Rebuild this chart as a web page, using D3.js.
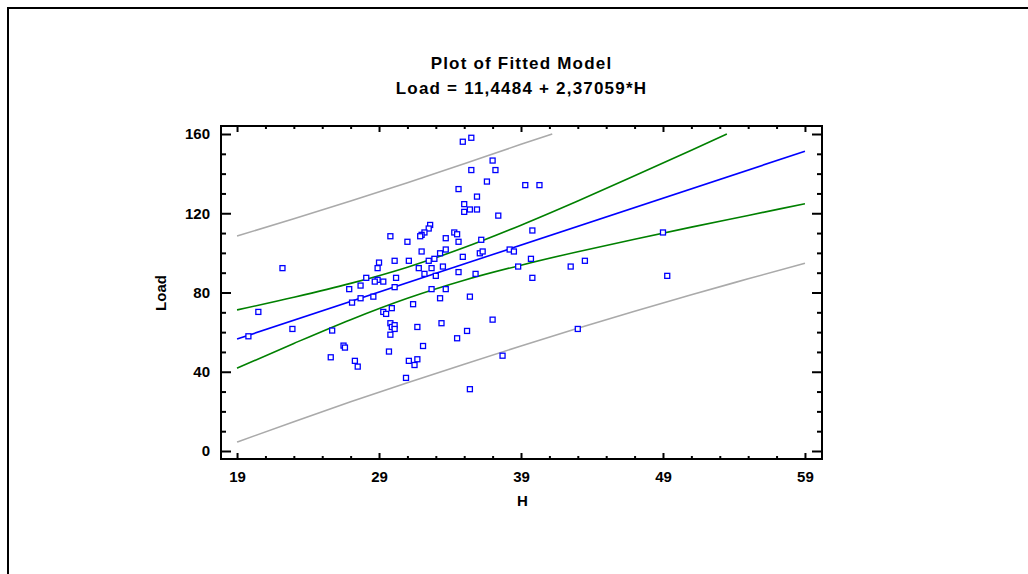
<!DOCTYPE html>
<html>
<head>
<meta charset="utf-8">
<script src="https://cdn.jsdelivr.net/npm/d3@7"></script>
<style>
  body { margin: 0; background: #fff; }
  text { font-family: "Liberation Sans", Arial, sans-serif; font-weight: bold; }
</style>
</head>
<body>
<svg width="1028" height="574"></svg>
<script>
// observed points (H, Load)
var H = [22.2, 34.9, 35.5, 35.5, 37.0, 37.2, 36.6, 34.6, 35.9, 35.0, 35.0, 35.4, 35.9, 37.4, 32.6, 32.5,
  32.2, 32.0, 31.9, 29.8, 31.0, 34.3, 34.5, 33.7, 34.6, 36.2, 32.0, 33.7, 33.3, 32.9, 32.5, 30.1,
  31.1, 29.0, 28.9, 31.8, 32.7, 33.5, 32.2, 33.0, 34.6, 35.8, 34.9, 36.1, 36.3, 38.2, 38.5, 38.8,
  28.1, 30.2, 28.9, 28.7, 29.3, 27.7, 26.9, 30.1, 32.7, 33.7, 27.7, 28.6, 33.3, 35.4,
  27.1, 20.5, 19.8, 22.9, 25.7, 26.5, 26.6, 25.6, 27.3, 27.5, 29.3, 29.5, 29.9, 29.8, 29.9, 30.1,
  30.1, 29.8, 29.7, 31.4, 31.7, 32.1, 31.1, 31.7, 31.5, 30.9, 33.4, 34.5, 35.2, 37.0, 37.7, 35.4,
  39.3, 40.3, 39.8, 39.7, 39.8, 42.5, 43.5, 49.0, 49.3, 43.0];
var load = [92.3, 156.1, 158.1, 141.8, 146.6, 141.8, 136.0, 132.2, 128.4, 124.6, 120.7, 121.9, 121.9, 118.8, 114.1, 112.3,
  110.3, 109.1, 108.4, 108.4, 105.6, 110.3, 109.4, 107.4, 105.6, 106.6, 100.7, 101.7, 99.8, 97.0, 96.0, 96.0,
  96.0, 95.1, 92.3, 92.3, 92.3, 93.1, 89.4, 88.4, 90.3, 89.4, 98.0, 99.8, 100.7, 101.7, 100.7, 93.1,
  87.4, 87.4, 86.4, 85.5, 85.5, 83.5, 81.7, 82.7, 81.7, 81.7, 77.1, 77.9, 77.1, 77.9,
  74.9, 70.2, 57.9, 61.6, 60.8, 53.2, 52.2, 47.3, 45.5, 42.6, 70.2, 69.2, 72.1, 64.5, 62.6, 63.5,
  61.6, 58.7, 50.2, 74.1, 62.6, 53.0, 45.5, 46.3, 43.4, 36.9, 64.5, 56.9, 60.6, 66.3, 48.1, 31.2,
  134.2, 134.2, 111.3, 97.0, 87.4, 93.1, 96.0, 110.3, 88.4, 61.6];

// fitted line and limits read along H
var fitH = [19, 59];
var fitLoad = [56.5, 151.3];
var bandH = [19, 23, 27, 31, 35, 39, 43, 47, 51, 55, 59];
var confUpper = [71.2, 77.6, 84.6, 92.8, 102.7, 114.0, 126.2, 138.9, 151.8, null, null];
var confLower = [41.8, 54.3, 66.3, 77.1, 86.2, 93.8, 100.6, 106.9, 113.0, 118.9, 124.8];
var predUpper = [108.5, 117.2, 126.2, 135.4, 145.0, 154.8, null, null, null, null, null];
var predLower = [4.5, 14.8, 24.8, 34.4, 43.8, 53.0, 61.9, 70.5, 78.9, 86.9, 94.8];
// where the upper limits leave the top of the chart
var confUpperEnd = [53.5, 160];
var predUpperEnd = [41.2, 160];

var xTicks = [19, 29, 39, 49, 59];
var yTicks = [0, 40, 80, 120, 160];
var title = "Plot of Fitted Model";
var subtitle = "Load = 11,4484 + 2,37059*H";

var svg = d3.select("svg");

// outer border
svg.append("rect")
  .attr("x", 8).attr("y", 8)
  .attr("width", 1100).attr("height", 700)
  .attr("fill", "none").attr("stroke", "#000").attr("stroke-width", 2);

var pLeft = 221, pTop = 126, pWidth = 601, pHeight = 333;

var x = d3.scaleLinear().domain([17.87, 60.2]).range([pLeft, pLeft + pWidth]);
var y = d3.scaleLinear().domain([-4.04, 164.04]).range([pTop + pHeight, pTop]);

svg.append("text").attr("x", pLeft + pWidth / 2).attr("y", 69)
  .attr("text-anchor", "middle").style("font-size", "17px").style("letter-spacing", "1.2px")
  .text(title);
svg.append("text").attr("x", pLeft + pWidth / 2).attr("y", 94)
  .attr("text-anchor", "middle").style("font-size", "17px").style("letter-spacing", "1.2px")
  .text(subtitle);

svg.append("clipPath").attr("id", "plot-clip")
  .append("rect").attr("x", pLeft).attr("y", pTop).attr("width", pWidth).attr("height", pHeight);

var plot = svg.append("g").attr("clip-path", "url(#plot-clip)");

function pairs(xs, ys, extra) {
  var out = [];
  xs.forEach(function(h, i) { if (ys[i] != null) out.push([h, ys[i]]); });
  if (extra) out.push(extra);
  return out;
}

var line = d3.line()
  .x(function(d) { return x(d[0]); })
  .y(function(d) { return y(d[1]); })
  .curve(d3.curveMonotoneX);

var curves = [
  { data: pairs(bandH, predUpper, predUpperEnd), color: "#aaaaaa" },
  { data: pairs(bandH, predLower), color: "#aaaaaa" },
  { data: pairs(bandH, confUpper, confUpperEnd), color: "#008000" },
  { data: pairs(bandH, confLower), color: "#008000" },
  { data: pairs(fitH, fitLoad), color: "#0000ff" }
];

plot.selectAll("path.curve")
  .data(curves)
  .enter().append("path")
  .attr("class", "curve")
  .attr("fill", "none")
  .attr("stroke", function(d) { return d.color; })
  .attr("stroke-width", 1.6)
  .attr("d", function(d) { return line(d.data); });

plot.selectAll("rect.pt")
  .data(d3.range(H.length))
  .enter().append("rect")
  .attr("class", "pt")
  .attr("x", function(i) { return x(H[i]) - 2.5; })
  .attr("y", function(i) { return y(load[i]) - 2.5; })
  .attr("width", 5).attr("height", 5)
  .attr("fill", "#fff")
  .attr("stroke", "#0000ff")
  .attr("stroke-width", 1.3);

// axes: ticks point inward on all four sides
var xMinor = d3.range(21, 59, 2).filter(function(v) { return xTicks.indexOf(v) < 0; });
var yMinor = d3.range(10, 160, 10).filter(function(v) { return yTicks.indexOf(v) < 0; });

function styleAxis(g) {
  g.select(".domain").remove();
  g.selectAll(".tick line").attr("stroke", "#000").attr("stroke-width", 2);
  g.selectAll(".tick text").style("font-size", "15px").attr("fill", "#000")
    .style("font-family", "'Liberation Sans', Arial, sans-serif").style("font-weight", "bold");
}

svg.append("g").attr("transform", "translate(0," + (pTop + pHeight) + ")")
  .call(d3.axisBottom(x).tickValues(xTicks).tickSize(-6).tickPadding(12)).call(styleAxis);
svg.append("g").attr("transform", "translate(0," + (pTop + pHeight) + ")")
  .call(d3.axisBottom(x).tickValues(xMinor).tickSize(-3).tickFormat("")).call(styleAxis);
svg.append("g").attr("transform", "translate(0," + pTop + ")")
  .call(d3.axisTop(x).tickValues(xTicks).tickSize(-6).tickFormat("")).call(styleAxis);
svg.append("g").attr("transform", "translate(0," + pTop + ")")
  .call(d3.axisTop(x).tickValues(xMinor).tickSize(-3).tickFormat("")).call(styleAxis);

svg.append("g").attr("transform", "translate(" + pLeft + ",0)")
  .call(d3.axisLeft(y).tickValues(yTicks).tickSize(-10).tickPadding(11)).call(styleAxis);
svg.append("g").attr("transform", "translate(" + pLeft + ",0)")
  .call(d3.axisLeft(y).tickValues(yMinor).tickSize(-5).tickFormat("")).call(styleAxis);
svg.append("g").attr("transform", "translate(" + (pLeft + pWidth) + ",0)")
  .call(d3.axisRight(y).tickValues(yTicks).tickSize(-10).tickFormat("")).call(styleAxis);
svg.append("g").attr("transform", "translate(" + (pLeft + pWidth) + ",0)")
  .call(d3.axisRight(y).tickValues(yMinor).tickSize(-5).tickFormat("")).call(styleAxis);

// frame
svg.append("rect")
  .attr("x", pLeft).attr("y", pTop).attr("width", pWidth).attr("height", pHeight)
  .attr("fill", "none").attr("stroke", "#000").attr("stroke-width", 2);

// axis titles
svg.append("text").attr("x", pLeft + pWidth / 2 + 1).attr("y", 506)
  .attr("text-anchor", "middle").style("font-size", "15px").text("H");
svg.append("text").attr("transform", "translate(166,293) rotate(-90)")
  .attr("text-anchor", "middle").style("font-size", "15px").text("Load");
</script>
</body>
</html>
